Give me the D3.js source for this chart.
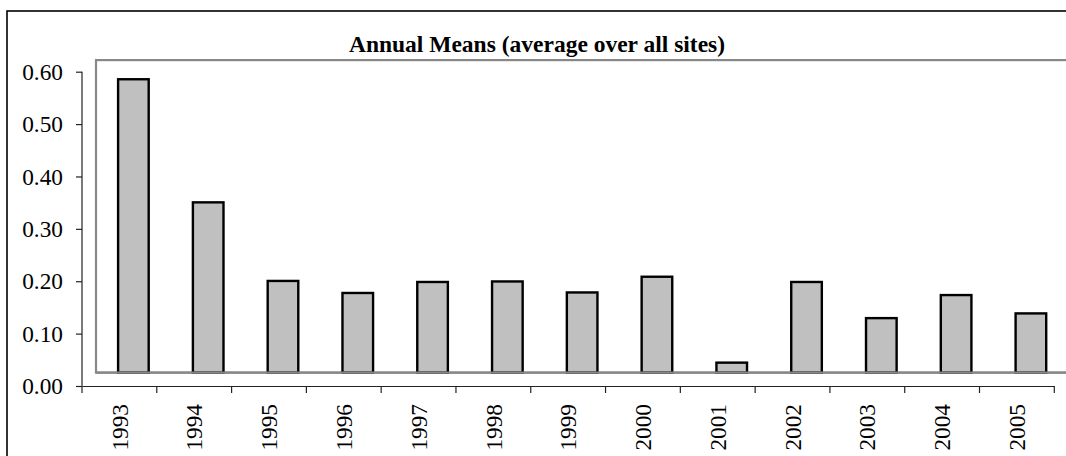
<!DOCTYPE html>
<html><head><meta charset="utf-8">
<script src="https://cdn.jsdelivr.net/npm/d3@7"></script>
<style>html,body{margin:0;padding:0;background:#fff;overflow:hidden}</style>
</head><body>
<script>
const years = ["1993","1994","1995","1996","1997","1998","1999","2000","2001","2002","2003","2004","2005"];
const means = [0.560,0.325,0.175,0.152,0.173,0.174,0.153,0.183,0.019,0.173,0.104,0.148,0.113];
const yTicks = [0,0.1,0.2,0.3,0.4,0.5,0.6];
const title = "Annual Means (average over all sites)";

const W = 1066, H = 456;
const svg = d3.select("body").append("svg").attr("width", W).attr("height", H);
const font = "'Liberation Serif','Times New Roman',serif";

const x = d3.scaleBand().domain(years).range([82, 1054.3]);
const y = d3.scaleLinear().domain([0, 0.6]).range([386, 71.7]);
const dx = 14, dy = -13.4;

// outer chart border
svg.append("rect").attr("x", 7).attr("y", 11).attr("width", W + 20).attr("height", H + 20)
  .attr("fill", "none").attr("stroke", "#000").attr("stroke-width", 1.6);

// back plot area (offset)
svg.append("rect").attr("x", x.range()[0] + dx).attr("y", y(0.6) + dy + 1.8)
  .attr("width", x.range()[1] - x.range()[0] + 30)
  .attr("height", y(0) - y(0.6) - 1.8)
  .attr("fill", "#fff").attr("stroke", "#888").attr("stroke-width", 2.2);

// bars
const bw = 30.6;
svg.append("g").selectAll("rect").data(years).join("rect")
  .attr("x", (d) => x(d) + x.bandwidth() / 2 + dx - bw / 2)
  .attr("y", (d, i) => y(means[i]) + dy)
  .attr("width", bw)
  .attr("height", (d, i) => y(0) - y(means[i]))
  .attr("fill", "#c0c0c0").attr("stroke", "#000").attr("stroke-width", 2.4);

// floor line
svg.append("line").attr("x1", x.range()[0] + dx).attr("x2", W)
  .attr("y1", y(0) + dy).attr("y2", y(0) + dy)
  .attr("stroke", "#888").attr("stroke-width", 2.2);

// y axis
const yAxis = svg.append("g").attr("transform", `translate(${x.range()[0]},0)`)
  .call(d3.axisLeft(y).tickValues(yTicks).tickFormat(d3.format(".2f")).tickSize(6).tickPadding(13));
yAxis.select(".domain").attr("stroke", "#222").attr("stroke-width", 1.2).attr("d", `M-0,${y(0.6)}V${y(0)}`);
yAxis.selectAll(".tick line").attr("stroke", "#222").attr("stroke-width", 1.2);
yAxis.selectAll("text").attr("font-family", font).attr("font-size", 23.3).attr("fill", "#000").attr("dy", "0.33em");

// x axis
const xAxis = svg.append("g").attr("transform", `translate(0,${y(0)})`)
  .call(d3.axisBottom(x).tickSize(0).tickSizeOuter(0));
xAxis.select(".domain").attr("stroke", "#222").attr("stroke-width", 1.2);
xAxis.selectAll(".tick line").remove();
const bounds = years.map(d => x(d)).concat([x.range()[1]]);
xAxis.append("g").selectAll("line").data(bounds).join("line")
  .attr("x1", d => d).attr("x2", d => d).attr("y1", 0).attr("y2", 7)
  .attr("stroke", "#222").attr("stroke-width", 1.2);
xAxis.selectAll(".tick text")
  .attr("font-family", font).attr("font-size", 23.3).attr("fill", "#000")
  .attr("text-anchor", "end")
  .attr("transform", "rotate(-90)")
  .attr("x", -18).attr("y", 0).attr("dy", "0.35em");

// title
svg.append("text").attr("x", 537).attr("y", 52).attr("text-anchor", "middle")
  .attr("font-family", font).attr("font-weight", "bold").attr("font-size", 23.5)
  .text(title);
</script>
</body></html>
